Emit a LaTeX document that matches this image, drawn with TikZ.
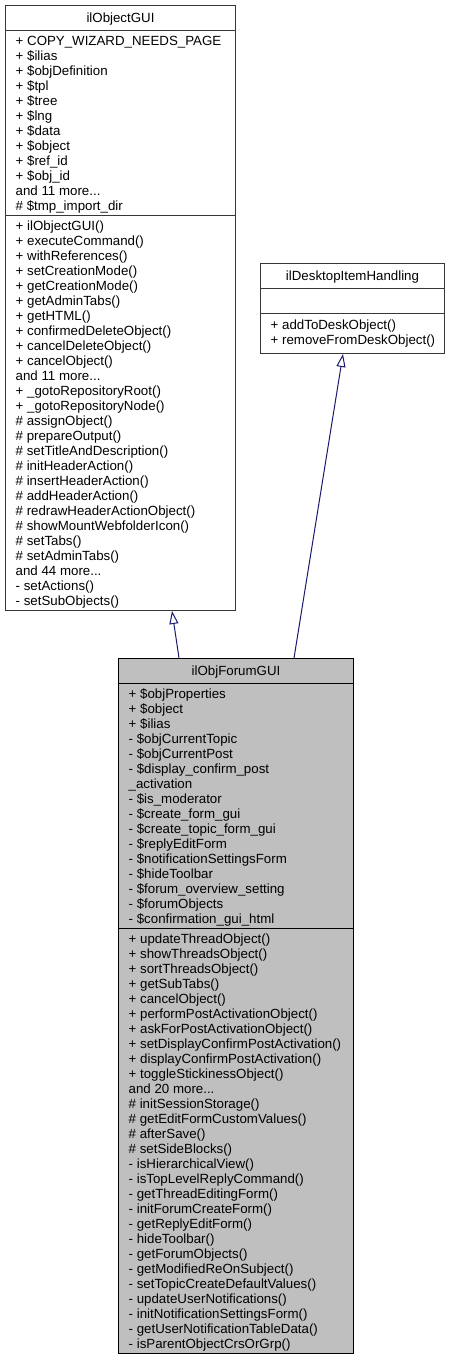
\documentclass[tikz,border=0pt]{standalone}
\usepackage{fontspec}
\setmainfont{Liberation Sans}
\usepackage{tikz}
\usetikzlibrary{calc,shapes,arrows.meta}
\definecolor{edgeblue}{RGB}{25,25,112}
\definecolor{boxgray}{RGB}{55,55,55}
\definecolor{focusfill}{RGB}{191,191,191}
\newcommand{\andmore}[1]{and #1 more...}
\tikzset{
  classbox/.style={draw=boxgray, line width=1pt, fill=white, anchor=north west, inner sep=0pt},
  focusbox/.style={classbox, draw=black, fill=focusfill},
  member/.style={anchor=base west, inner sep=0pt, font=\fontsize{13.3}{15}\selectfont},
  classname/.style={anchor=base, inner sep=0pt, font=\fontsize{13.3}{15}\selectfont},
  inherit/.style={draw=edgeblue, line width=1pt, {Triangle[open,length=13pt,width=9pt]}-}
}

\begin{document}
\begin{tikzpicture}[x=1pt,y=-1pt]
        \useasboundingbox (0,0) rectangle (450,1357);
        \node[classbox, minimum width=230pt, minimum height=605pt] (objgui) at (5,5) {};
        \node[classbox, minimum width=184pt, minimum height=90pt] (desk) at (260,263) {};
        \node[focusbox, minimum width=235pt, minimum height=695pt] (forum) at (118,658) {};
        \foreach \y in {25,210}
        \draw[boxgray, line width=1pt] ($(objgui.north west)+(0,\y)$) -- ($(objgui.north east)+(0,\y)$);
        \foreach \y in {25,50}
        \draw[boxgray, line width=1pt] ($(desk.north west)+(0,\y)$) -- ($(desk.north east)+(0,\y)$);
        \foreach \y in {25,270}
        \draw[black, line width=1pt] ($(forum.north west)+(0,\y)$) -- ($(forum.north east)+(0,\y)$);
        \node[classname] (objguiname) at ($(objgui.north)+(0,17)$) {ilObjectGUI};
        \node[classname] (deskname) at ($(desk.north)+(0,17)$) {ilDesktopItemHandling};
        \node[classname] (forumname) at ($(forum.north)+(0,17)$) {ilObjForumGUI};
        \foreach \m [count=\i] in {+ COPY\_WIZARD\_NEEDS\_PAGE, + \$ilias, + \$objDefinition, + \$tpl, + \$tree, + \$lng, + \$data, + \$object, + \$ref\_id, + \$obj\_id, \andmore{11}, \# \$tmp\_import\_dir}
        \node[member] (objguiattr\i) at ($(objgui.north west)+(10.5,25+15*\i)$) {\m};
        \foreach \m [count=\i] in {+ ilObjectGUI(), + executeCommand(), + withReferences(), + setCreationMode(), + getCreationMode(), + getAdminTabs(), + getHTML(), + confirmedDeleteObject(), + cancelDeleteObject(), + cancelObject(), \andmore{11}, + \_gotoRepositoryRoot(), + \_gotoRepositoryNode(), \# assignObject(), \# prepareOutput(), \# setTitleAndDescription(), \# initHeaderAction(), \# insertHeaderAction(), \# addHeaderAction(), \# redrawHeaderActionObject(), \# showMountWebfolderIcon(), \# setTabs(), \# setAdminTabs(), \andmore{44}, - setActions(), - setSubObjects()}
        \node[member] (objguiop\i) at ($(objgui.north west)+(10.5,210+15*\i)$) {\m};
        \foreach \m [count=\i] in {+ addToDeskObject(), + removeFromDeskObject()}
        \node[member] (deskop\i) at ($(desk.north west)+(10.5,51+15*\i)$) {\m};
        \foreach \m [count=\i] in {+ \$objProperties, + \$object, + \$ilias, - \$objCurrentTopic, - \$objCurrentPost, - \$display\_confirm\_post, \_activation, - \$is\_moderator, - \$create\_form\_gui, - \$create\_topic\_form\_gui, - \$replyEditForm, - \$notificationSettingsForm, - \$hideToolbar, - \$forum\_overview\_setting, - \$forumObjects, - \$confirmation\_gui\_html}
        \node[member] (forumattr\i) at ($(forum.north west)+(10.5,25+15*\i)$) {\m};
        \foreach \m [count=\i] in {+ updateThreadObject(), + showThreadsObject(), + sortThreadsObject(), + getSubTabs(), + cancelObject(), + performPostActivationObject(), + askForPostActivationObject(), + setDisplayConfirmPostActivation(), + displayConfirmPostActivation(), + toggleStickinessObject(), \andmore{20}, \# initSessionStorage(), \# getEditFormCustomValues(), \# afterSave(), \# setSideBlocks(), - isHierarchicalView(), - isTopLevelReplyCommand(), - getThreadEditingForm(), - initForumCreateForm(), - getReplyEditForm(), - hideToolbar(), - getForumObjects(), - getModifiedReOnSubject(), - setTopicCreateDefaultValues(), - updateUserNotifications(), - initNotificationSettingsForm(), - getUserNotificationTableData(), - isParentObjectCrsOrGrp()}
        \node[member] (forumop\i) at ($(forum.north west)+(10.5,270+15*\i)$) {\m};
        \draw[inherit] ($(objgui.south west)+(167,0)$) -- ($(forum.north west)+(61,0)$);
        \draw[inherit] ($(desk.south west)+(83,0)$) -- ($(forum.north west)+(176,0)$);
    \end{tikzpicture}
\end{document}
